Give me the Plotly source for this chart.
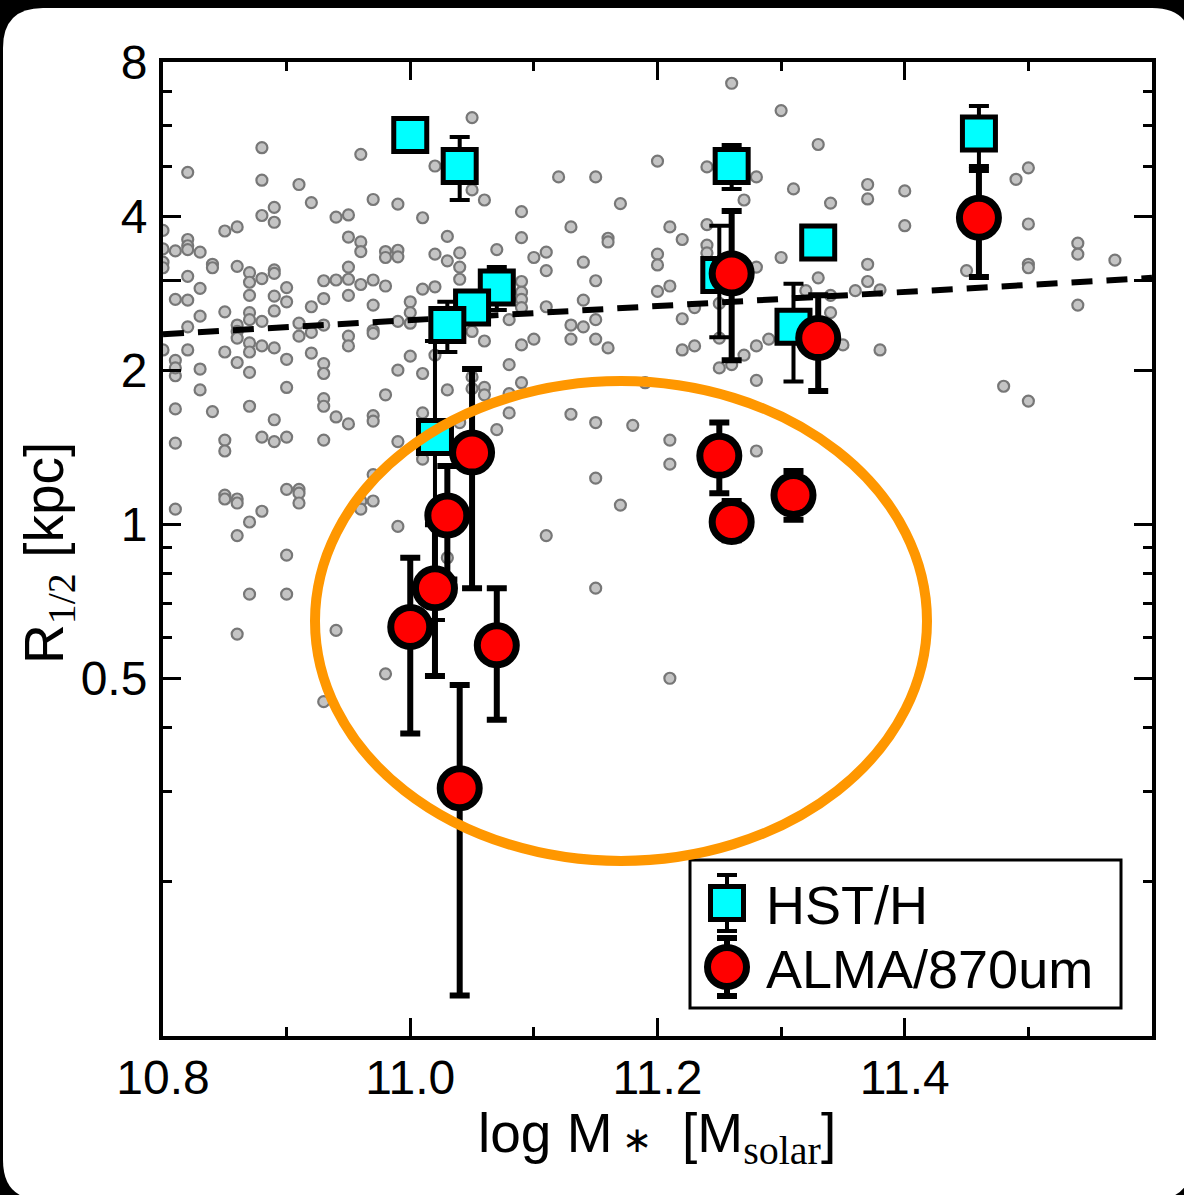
import plotly.graph_objects as go

# ---------------- data ----------------
gray_x = [
    10.88, 10.82, 10.96, 10.88, 10.91, 10.92, 10.97, 10.99, 10.89, 10.88, 10.89, 10.94, 10.95, 10.86, 10.85,
    10.80, 10.82, 10.82, 10.82, 10.81, 10.80, 10.83, 10.95, 10.96, 10.96, 10.98, 10.98, 10.99, 10.99, 10.80,
    10.80, 10.84, 10.84, 10.86, 10.82, 10.87, 10.87, 10.88, 10.89, 10.89, 10.95, 10.95, 10.93, 10.94, 10.96,
    10.97, 10.98, 11.01, 11.01, 10.83, 10.81, 10.82, 10.90, 10.87, 10.89, 10.90, 10.95, 10.93, 10.92, 10.97,
    11.00, 11.00, 11.00, 10.99, 10.85, 10.87, 10.87, 10.88, 10.89, 10.83, 10.82, 10.86, 10.91, 10.93, 10.97,
    10.86, 10.86, 10.87, 10.87, 10.88, 10.89, 10.91, 10.92, 10.92, 10.95, 10.95, 10.97, 10.80, 10.82, 10.81,
    10.81, 10.81, 10.83, 10.85, 10.86, 10.87, 10.90, 10.93, 10.93, 10.99, 11.00, 10.83, 10.90, 10.98, 10.81,
    10.84, 10.87, 10.89, 10.93, 10.93, 10.94, 10.95, 10.97, 10.97, 10.81, 10.85, 10.85, 10.88, 10.89, 10.90,
    10.93, 10.99, 10.97, 10.81, 10.85, 10.85, 10.86, 10.86, 10.87, 10.88, 10.90, 10.91, 10.91, 10.91, 10.96,
    10.96, 10.97, 10.99, 10.86, 10.90, 10.87, 10.90, 10.94, 10.86, 10.98, 10.93,
    11.05, 11.02, 11.05, 11.06, 11.12, 11.15, 11.20, 11.17, 11.09, 11.13, 11.21, 11.03, 11.09, 11.16, 11.16,
    11.02, 11.03, 11.04, 11.04, 11.04, 11.07, 11.10, 11.11, 11.11, 11.14, 11.15, 11.20, 11.20, 11.21, 11.20,
    11.22, 11.02, 11.09, 11.09, 11.09, 11.09, 11.11, 11.14, 11.15, 11.13, 11.14, 11.08, 11.22,
    11.05, 11.06, 11.09, 11.10, 11.13, 11.15, 11.16, 11.22, 11.02, 11.01, 11.08, 11.03, 11.05, 11.05, 11.06,
    11.06, 11.09, 11.08, 11.19, 11.01, 11.04, 11.08, 11.07, 11.13, 11.15, 11.18, 11.21, 11.21, 11.01, 11.15,
    11.17, 11.11, 11.03, 11.15, 11.21,
    11.26, 11.30, 11.33, 11.24, 11.28, 11.27, 11.31, 11.34, 11.37, 11.37, 11.40, 11.40, 11.49, 11.50, 11.50,
    11.24, 11.24, 11.24, 11.28, 11.30, 11.37, 11.37, 11.33, 11.32, 11.34, 11.36, 11.38, 11.45, 11.50, 11.50,
    11.54, 11.54, 11.57, 11.54, 11.23, 11.34, 11.25,
    11.23, 11.25, 11.26, 11.27, 11.28, 11.28, 11.29, 11.35, 11.38, 11.48, 11.50, 11.28, 11.25,
]
gray_y = [
    5.44, 4.87, 5.28, 4.70, 4.61, 4.25, 4.31, 4.22, 4.16, 4.01, 3.89, 3.98, 4.02, 3.81, 3.74,
    3.75, 3.60, 3.50, 3.44, 3.42, 3.45, 3.40, 3.64, 3.56, 3.41, 3.41, 3.32, 3.43, 3.33, 3.25,
    3.17, 3.22, 3.17, 3.19, 3.05, 3.10, 2.97, 3.02, 3.14, 3.09, 3.18, 3.01, 2.99, 3.00, 2.94,
    3.00, 2.92, 3.97, 2.88, 2.89, 2.75, 2.74, 2.90, 2.80, 2.79, 2.72, 2.80, 2.76, 2.66, 2.68,
    2.72, 2.59, 2.47, 2.49, 2.60, 2.59, 2.51, 2.49, 2.61, 2.55, 2.43, 2.45, 2.47, 2.45, 2.39,
    2.38, 2.31, 2.26, 2.17, 2.23, 2.21, 2.33, 2.37, 2.16, 2.33, 2.23, 2.36, 2.19, 2.19, 2.09,
    1.95, 2.02, 2.01, 2.17, 2.07, 1.98, 2.10, 2.06, 1.97, 2.00, 2.13, 1.83, 1.85, 1.79, 1.68,
    1.66, 1.70, 1.60, 1.76, 1.70, 1.62, 1.57, 1.63, 1.59, 1.44, 1.46, 1.39, 1.48, 1.45, 1.48,
    1.46, 1.45, 1.25, 1.07, 1.14, 1.12, 1.12, 1.10, 1.01, 1.06, 1.17, 1.17, 1.15, 1.10, 1.11,
    1.07, 1.11, 0.99, 0.95, 0.87, 0.73, 0.73, 0.62, 0.61, 0.51, 0.45,
    6.23, 5.01, 4.50, 4.30, 4.77, 4.77, 5.12, 4.23, 4.08, 3.81, 3.81, 3.65, 3.63, 3.62, 3.56,
    3.37, 3.27, 3.39, 3.18, 3.01, 3.44, 3.32, 3.40, 3.13, 3.25, 2.99, 3.37, 3.21, 2.92, 2.85,
    3.60, 2.91, 2.98, 2.84, 2.75, 2.65, 2.66, 2.74, 2.51, 2.45, 2.43, 2.51, 2.52,
    2.38, 2.28, 2.24, 2.30, 2.30, 2.30, 2.21, 2.19, 2.14, 1.97, 2.05, 1.83, 1.94, 1.84, 1.85,
    1.79, 1.89, 1.80, 1.89, 1.65, 1.58, 1.65, 1.53, 1.64, 1.58, 1.56, 1.46, 1.31, 1.34, 1.23,
    1.09, 0.95, 0.86, 0.75, 0.50,
    7.27, 6.43, 5.52, 4.99, 4.77, 4.30, 4.52, 4.24, 4.61, 4.32, 4.48, 3.83, 4.72, 4.97, 3.86,
    3.85, 3.51, 3.39, 3.18, 3.32, 3.22, 2.98, 3.03, 2.86, 2.80, 2.86, 2.87, 3.13, 3.22, 3.17,
    3.54, 3.37, 3.28, 2.68, 2.65, 2.59, 2.70,
    2.23, 2.02, 2.05, 2.14, 2.23, 1.91, 2.30, 2.24, 2.19, 1.86, 1.74, 1.39, 2.31,
]

hst_x = [11.00, 11.04, 11.07, 11.05, 11.03, 11.02, 11.26, 11.25, 11.33, 11.31, 11.46]
hst_y = [5.76, 5.01, 2.90, 2.65, 2.45, 1.48, 5.01, 3.07, 3.55, 2.43, 5.80]
hst_err_plus = [0.0, 0.70, 0.28, 0.15, 0.27, 0.80, 0.50, 0.76, 0.0, 0.52, 0.76]
hst_err_minus = [0.0, 0.71, 0.28, 0.15, 0.28, 0.83, 0.49, 0.75, 0.0, 0.53, 0.79]

alma_x = [11.00, 11.02, 11.03, 11.05, 11.07, 11.04, 11.25, 11.26, 11.31, 11.26, 11.33, 11.46]
alma_y = [0.63, 0.75, 1.04, 1.38, 0.58, 0.305, 1.36, 1.01, 1.14, 3.09, 2.31, 3.97]
alma_err_plus = [0.23, 0.25, 0.26, 0.63, 0.17, 0.18, 0.22, 0.10, 0.13, 1.00, 0.49, 0.95]
alma_err_minus = [0.24, 0.245, 0.26, 0.63, 0.165, 0.185, 0.21, 0.08, 0.12, 1.00, 0.49, 0.93]

trend_x = [10.8, 11.6]
trend_y = [2.35, 3.03]

x_ticks = [10.8, 11.0, 11.2, 11.4]
x_ticktext = ["10.8", "11.0", "11.2", "11.4"]
x_minor = [10.9, 11.1, 11.3, 11.5]
y_ticks = [0.5, 1, 2, 3, 4, 8]
y_ticktext = ["0.5", "1", "2", "", "4", "8"]
y_minor = [0.2, 0.3, 0.4, 0.6, 0.7, 0.8, 0.9, 5, 6, 7]

legend_labels = ["HST/H", "ALMA/870um"]

# ---------------- layout geometry (pixels) ----------------
W, H = 1184, 1195
L, R, T, B = 163, 1152, 62, 1036
PW, PH = R - L, B - T


def px2paper(px, py):
    return (px - L) / PW, (B - py) / PH


def rounded_rect(x0, y0, x1, y1, r):
    ax0, ay0 = px2paper(x0, y0)
    ax1, ay1 = px2paper(x1, y1)
    rx, ry = r / PW, r / PH
    return (f"M {ax0 + rx},{ay0} L {ax1 - rx},{ay0} Q {ax1},{ay0} {ax1},{ay0 - ry} "
            f"L {ax1},{ay1 + ry} Q {ax1},{ay1} {ax1 - rx},{ay1} "
            f"L {ax0 + rx},{ay1} Q {ax0},{ay1} {ax0},{ay1 + ry} "
            f"L {ax0},{ay0 - ry} Q {ax0},{ay0} {ax0 + rx},{ay0} Z")


FONT = "Liberation Sans"
SERIF = "Liberation Serif"

fig = go.Figure()

fig.add_trace(go.Scatter(
    x=gray_x, y=gray_y, mode="markers", showlegend=False,
    marker=dict(size=11, color="#c4c4c4", line=dict(color="#777777", width=2.2)),
))

fig.add_trace(go.Scatter(
    x=trend_x, y=trend_y, mode="lines", showlegend=False,
    line=dict(color="black", width=6, dash="21px,14px"),
))

fig.add_trace(go.Scatter(
    x=hst_x, y=hst_y, mode="markers", name=legend_labels[0], showlegend=False,
    error_y=dict(type="data", symmetric=False, array=hst_err_plus, arrayminus=hst_err_minus,
                 color="black", thickness=4, width=10),
    marker=dict(symbol="square", size=33, color="#00ffff", line=dict(color="black", width=5)),
))

fig.add_trace(go.Scatter(
    x=alma_x, y=alma_y, mode="markers", name=legend_labels[1], showlegend=False,
    error_y=dict(type="data", symmetric=False, array=alma_err_plus, arrayminus=alma_err_minus,
                 color="black", thickness=6, width=10),
    marker=dict(symbol="circle", size=39, color="#ff0000", line=dict(color="black", width=7)),
))

# custom legend keys (on a hidden overlay axis spanning the plot area, 0..1)
leg_x = (727 - L) / PW
leg_y_hst = (B - 903) / PH
leg_y_alma = (B - 967) / PH
fig.add_trace(go.Scatter(
    x=[leg_x], y=[leg_y_hst], xaxis="x2", yaxis="y2", mode="markers", showlegend=False,
    error_y=dict(type="data", array=[28 / PH], color="black", thickness=4, width=10),
    marker=dict(symbol="square", size=33, color="#00ffff", line=dict(color="black", width=5)),
))
fig.add_trace(go.Scatter(
    x=[leg_x], y=[leg_y_alma], xaxis="x2", yaxis="y2", mode="markers", showlegend=False,
    error_y=dict(type="data", array=[29 / PH], color="black", thickness=6, width=10),
    marker=dict(symbol="circle", size=39, color="#ff0000", line=dict(color="black", width=7)),
))

shapes = [
    dict(type="path", xref="paper", yref="paper", path=rounded_rect(3, 8, 1192, 1200, 40),
         fillcolor="white", line=dict(width=0), layer="below"),
    dict(type="rect", xref="paper", yref="paper",
         x0=px2paper(690, 0)[0], x1=px2paper(1121, 0)[0],
         y0=px2paper(0, 1008)[1], y1=px2paper(0, 860)[1],
         fillcolor="white", line=dict(color="black", width=3), layer="below"),
    dict(type="circle", xref="x domain", yref="y domain",
         x0=(315 - L) / PW, x1=(927 - L) / PW, y0=(B - 861) / PH, y1=(B - 381) / PH,
         line=dict(color="#ff9700", width=10), layer="above"),
]

annotations = [
    dict(xref="paper", yref="paper", x=px2paper(764, 0)[0], y=px2paper(0, 905)[1],
         text=legend_labels[0], showarrow=False, xanchor="left", yanchor="middle",
         font=dict(family=FONT, size=54, color="black")),
    dict(xref="paper", yref="paper", x=px2paper(764, 0)[0], y=px2paper(0, 969)[1],
         text=legend_labels[1], showarrow=False, xanchor="left", yanchor="middle",
         font=dict(family=FONT, size=54, color="black")),
    dict(xref="paper", yref="paper", x=px2paper(48, 0)[0], y=px2paper(0, 553)[1],
         text=f"R<sub><span style='font-family:{SERIF}; font-size:40px'>1/2</span></sub> [kpc]",
         textangle=-90, showarrow=False, xanchor="center", yanchor="middle",
         font=dict(family=FONT, size=55, color="black")),
    dict(xref="paper", yref="paper", x=px2paper(657, 0)[0], y=px2paper(0, 1137)[1],
         text=f"log M<span style='font-family:{SERIF}; font-size:36px'> \u2217</span>  "
              f"[M<sub><span style='font-family:{SERIF}; font-size:40px'>solar</span></sub>]",
         showarrow=False, xanchor="center", yanchor="middle",
         font=dict(family=FONT, size=55, color="black")),
]

fig.update_layout(
    width=W, height=H,
    margin=dict(l=L, r=W - R, t=T, b=H - B, pad=0),
    paper_bgcolor="black", plot_bgcolor="white",
    showlegend=False,
    shapes=shapes, annotations=annotations,
    font=dict(family=FONT, color="black"),
    xaxis=dict(
        range=[10.8, 11.6], tickmode="array", tickvals=x_ticks, ticktext=x_ticktext,
        ticks="inside", ticklen=18, tickwidth=3, tickcolor="black",
        minor=dict(tickmode="array", tickvals=x_minor, ticks="inside", ticklen=9,
                   tickwidth=3, tickcolor="black"),
        showline=True, linewidth=4, linecolor="black", mirror="ticks",
        showgrid=False, zeroline=False,
        tickfont=dict(family=FONT, size=48, color="black"), ticklabelstandoff=-4,
    ),
    yaxis=dict(
        type="log", range=[-1, 0.90309], tickmode="array", tickvals=y_ticks, ticktext=y_ticktext,
        ticks="inside", ticklen=18, tickwidth=3, tickcolor="black",
        minor=dict(tickmode="array", tickvals=y_minor, ticks="inside", ticklen=9,
                   tickwidth=3, tickcolor="black"),
        showline=True, linewidth=4, linecolor="black", mirror="ticks",
        showgrid=False, zeroline=False,
        tickfont=dict(family=FONT, size=48, color="black"), ticklabelstandoff=2,
    ),
    xaxis2=dict(overlaying="x", range=[0, 1], visible=False, fixedrange=True),
    yaxis2=dict(overlaying="y", range=[0, 1], visible=False, fixedrange=True),
)

fig.write_html("out.html")
